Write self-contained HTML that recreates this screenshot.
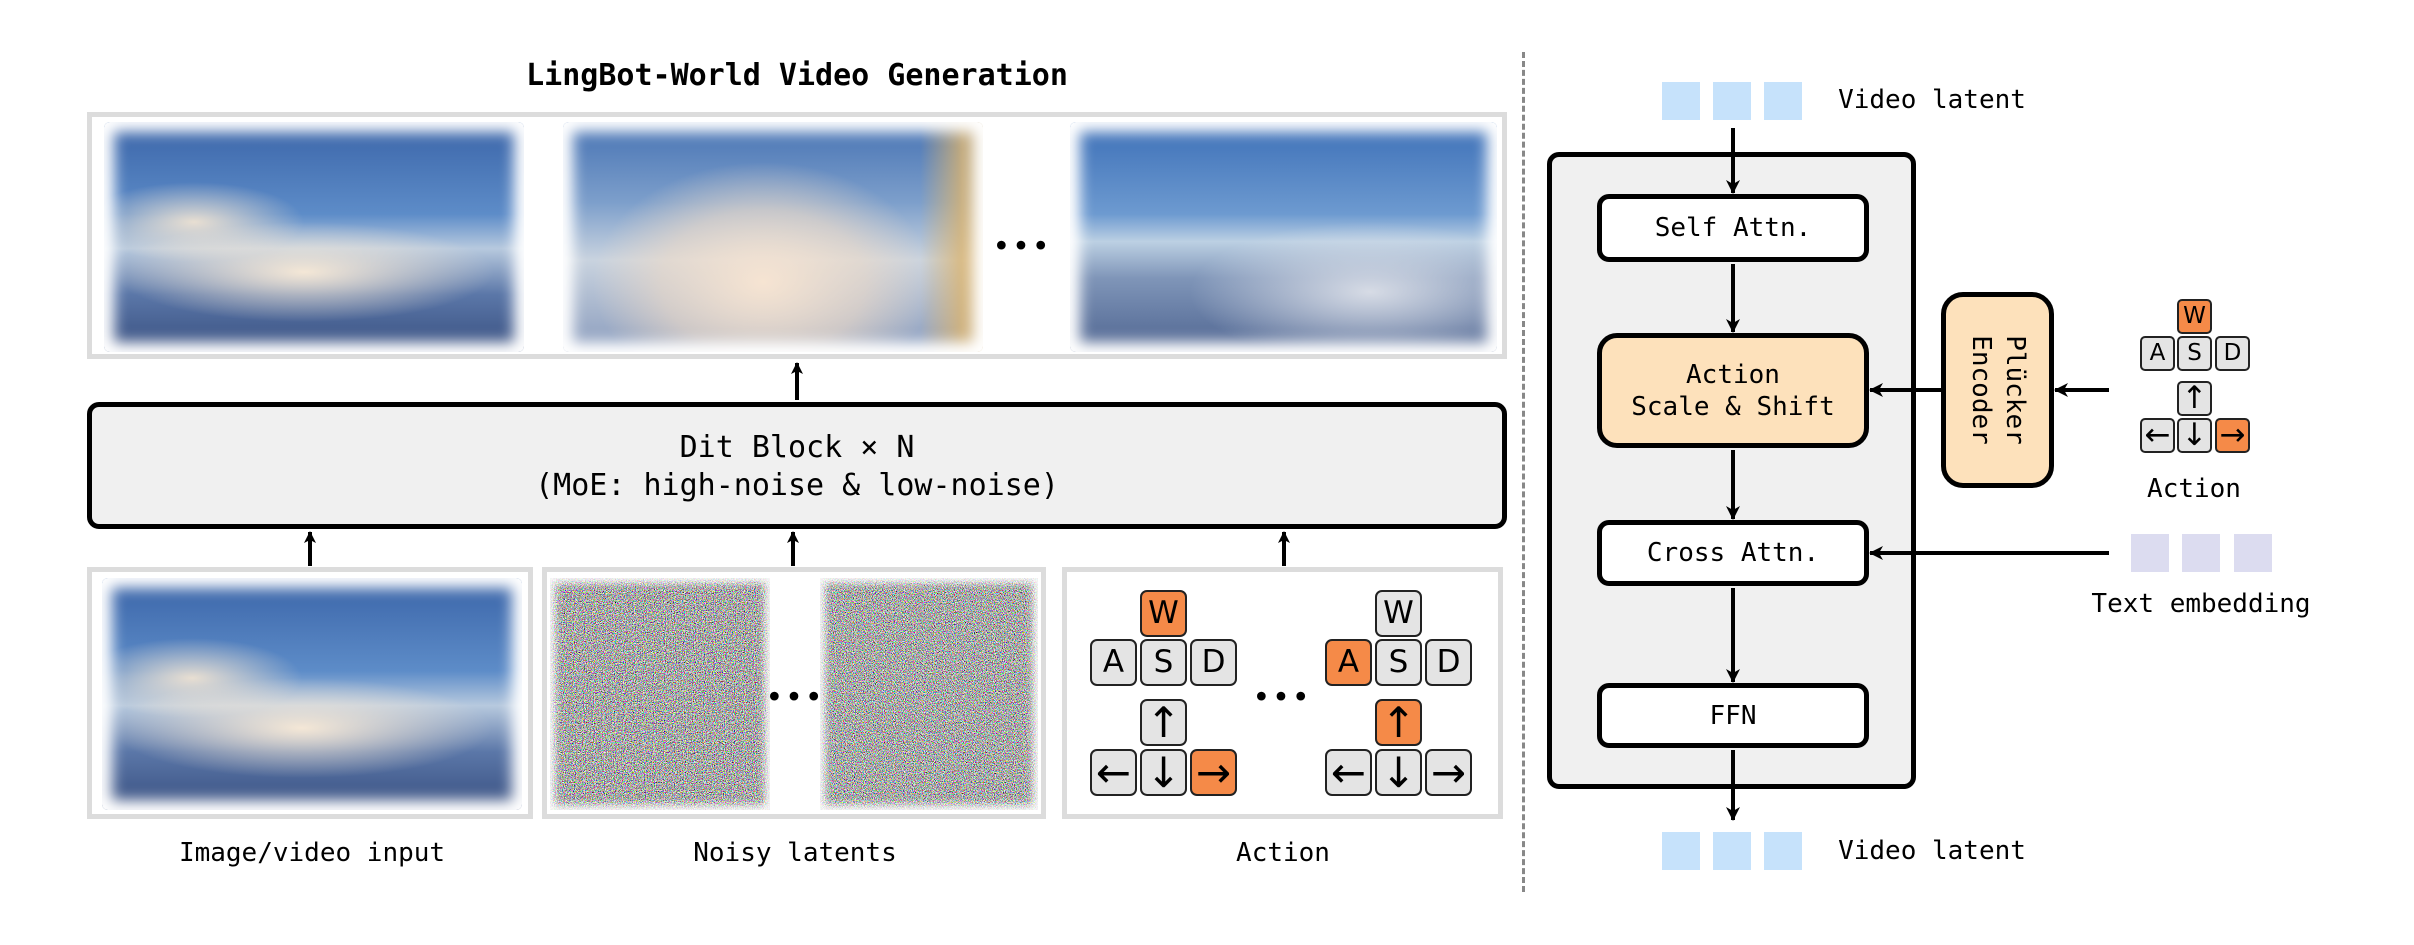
<!DOCTYPE html>
<html><head><meta charset="utf-8">
<style>
*{box-sizing:border-box;margin:0;padding:0}
body{width:2414px;height:945px;background:#fff;position:relative;overflow:hidden;font-family:"DejaVu Sans Mono","Liberation Mono",monospace;color:#000}
.a{position:absolute}
.gbox{position:absolute;border:5px solid #dcdcdc;background:#fff}
.img{position:absolute;border-radius:6px}
.fe{box-shadow:inset 0 0 14px 10px #fff}
.t{position:absolute;white-space:nowrap;transform:translate(-50%,-50%);line-height:1}
.key{position:absolute;background:#e4e4e4;border:2.5px solid #222;border-radius:7px;font-family:"DejaVu Sans","Liberation Sans",sans-serif;display:flex;align-items:center;justify-content:center;line-height:1}
.k1{width:47px;height:47px;font-size:31px}
.k1.ar{font-size:42px}
.k2{width:35px;height:35px;font-size:23px;border-width:2px;border-radius:5px}
.k2.ar{font-size:31px}
.o{background:#f58a48}
.box{position:absolute;border:5px solid #000;border-radius:12px;display:flex;align-items:center;justify-content:center;text-align:center;font-size:26px;line-height:32px}
.sq{position:absolute;width:38px;height:38px}
.dots{position:absolute;font-family:"DejaVu Sans",sans-serif;font-size:30px;transform:translate(-50%,-50%);letter-spacing:2px}
</style></head><body>

<div class="t" style="left:797px;top:76px;font-size:30px;font-weight:bold">LingBot-World Video Generation</div>

<div class="gbox" style="left:87px;top:112px;width:1420px;height:247px"></div>
<div class="img" style="left:104px;top:122px;width:420px;height:230px;background:
radial-gradient(ellipse 190px 50px at 200px 150px,rgba(250,235,215,.95),rgba(250,235,215,0) 100%),
radial-gradient(ellipse 110px 40px at 90px 100px,rgba(245,230,210,.9),rgba(245,230,210,0)),
linear-gradient(180deg,#3a64a8 0%,#5d8cc8 40%,#b7c9de 55%,#5b77a8 75%,#384f80 100%)"></div>
<div class="img fe" style="left:104px;top:122px;width:420px;height:230px"></div>
<div class="img" style="left:563px;top:122px;width:420px;height:230px;background:
radial-gradient(ellipse 170px 120px at 200px 160px,rgba(246,228,210,1),rgba(240,220,200,.6) 60%,rgba(240,220,200,0)),
linear-gradient(90deg,rgba(0,0,0,0) 85%,rgba(220,180,110,.8) 95%),
linear-gradient(180deg,#4672b3 0%,#7d9fcb 35%,#c9d3df 60%,#8a9cbd 100%)"></div>
<div class="img fe" style="left:563px;top:122px;width:420px;height:230px"></div>
<div class="dots" style="left:1022px;top:247px">•••</div>
<div class="img" style="left:1070px;top:122px;width:427px;height:230px;background:
radial-gradient(ellipse 180px 70px at 300px 170px,rgba(225,228,235,.9),rgba(200,210,225,0)),
linear-gradient(180deg,#3c6fb7 0%,#6d9ad0 40%,#bcd0e3 52%,#7f95b8 68%,#4f6591 100%)"></div>
<div class="img fe" style="left:1070px;top:122px;width:427px;height:230px"></div>

<div class="a" style="left:87px;top:402px;width:1420px;height:127px;background:#f0f0f0;border:5px solid #000;border-radius:12px"></div>
<div class="t" style="left:797px;top:448px;font-size:30px">Dit Block × N</div>
<div class="t" style="left:797px;top:486px;font-size:30px">(MoE: high-noise &amp; low-noise)</div>

<div class="gbox" style="left:87px;top:567px;width:446px;height:252px"></div>
<div class="img" style="left:102px;top:578px;width:420px;height:232px;background:
radial-gradient(ellipse 190px 50px at 200px 150px,rgba(250,235,215,.95),rgba(250,235,215,0) 100%),
radial-gradient(ellipse 110px 40px at 90px 100px,rgba(245,230,210,.9),rgba(245,230,210,0)),
linear-gradient(180deg,#3a64a8 0%,#5d8cc8 40%,#b7c9de 55%,#5b77a8 75%,#384f80 100%)"></div>
<div class="img fe" style="left:102px;top:578px;width:420px;height:232px"></div>

<div class="gbox" style="left:542px;top:567px;width:504px;height:252px"></div>
<svg class="a" style="left:550px;top:578px" width="220" height="232">
<filter id="n" x="0" y="0" width="100%" height="100%"><feTurbulence type="fractalNoise" baseFrequency="1.1" numOctaves="1" seed="3"/><feComponentTransfer><feFuncR type="linear" slope="4" intercept="-1.5"/><feFuncG type="linear" slope="4" intercept="-1.5"/><feFuncB type="linear" slope="4" intercept="-1.5"/><feFuncA type="linear" slope="0" intercept="1"/></feComponentTransfer></filter>
<rect width="220" height="232" filter="url(#n)"/></svg>
<div class="img fe" style="left:550px;top:578px;width:220px;height:232px;border-radius:0;box-shadow:inset 0 0 8px 5px rgba(255,255,255,.9)"></div>
<svg class="a" style="left:820px;top:578px" width="218" height="232">
<filter id="n2" x="0" y="0" width="100%" height="100%"><feTurbulence type="fractalNoise" baseFrequency="1.1" numOctaves="1" seed="8"/><feComponentTransfer><feFuncR type="linear" slope="4" intercept="-1.5"/><feFuncG type="linear" slope="4" intercept="-1.5"/><feFuncB type="linear" slope="4" intercept="-1.5"/><feFuncA type="linear" slope="0" intercept="1"/></feComponentTransfer></filter>
<rect width="218" height="232" filter="url(#n2)"/></svg>
<div class="img fe" style="left:820px;top:578px;width:218px;height:232px;border-radius:0;box-shadow:inset 0 0 8px 5px rgba(255,255,255,.9)"></div>
<div class="dots" style="left:795px;top:698px">•••</div>

<div class="gbox" style="left:1062px;top:567px;width:441px;height:252px"></div>
<div class="key k1 o" style="left:1140px;top:590px">W</div>
<div class="key k1" style="left:1090px;top:639px">A</div>
<div class="key k1" style="left:1140px;top:639px">S</div>
<div class="key k1" style="left:1190px;top:639px">D</div>
<div class="key k1 ar" style="left:1140px;top:699px">↑</div>
<div class="key k1 ar" style="left:1090px;top:749px">←</div>
<div class="key k1 ar" style="left:1140px;top:749px">↓</div>
<div class="key k1 ar o" style="left:1190px;top:749px">→</div>
<div class="dots" style="left:1282px;top:698px">•••</div>
<div class="key k1" style="left:1375px;top:590px">W</div>
<div class="key k1 o" style="left:1325px;top:639px">A</div>
<div class="key k1" style="left:1375px;top:639px">S</div>
<div class="key k1" style="left:1425px;top:639px">D</div>
<div class="key k1 ar o" style="left:1375px;top:699px">↑</div>
<div class="key k1 ar" style="left:1325px;top:749px">←</div>
<div class="key k1 ar" style="left:1375px;top:749px">↓</div>
<div class="key k1 ar" style="left:1425px;top:749px">→</div>

<div class="t" style="left:312px;top:853px;font-size:26px">Image/video input</div>
<div class="t" style="left:795px;top:853px;font-size:26px">Noisy latents</div>
<div class="t" style="left:1283px;top:853px;font-size:26px">Action</div>

<div class="a" style="left:1522px;top:52px;width:0;height:840px;border-left:3px dashed #888"></div>

<div class="sq" style="left:1662px;top:82px;background:#c6e2fb"></div>
<div class="sq" style="left:1713px;top:82px;background:#c6e2fb"></div>
<div class="sq" style="left:1764px;top:82px;background:#c6e2fb"></div>
<div class="t" style="left:1932px;top:100px;font-size:26px">Video latent</div>

<div class="a" style="left:1547px;top:152px;width:369px;height:637px;background:#f0f0f0;border:5px solid #000;border-radius:12px"></div>
<div class="box" style="left:1597px;top:194px;width:272px;height:68px;background:#fff">Self Attn.</div>
<div class="box" style="left:1597px;top:333px;width:272px;height:115px;background:#fde1bb;border-radius:20px">Action<br>Scale &amp; Shift</div>
<div class="box" style="left:1597px;top:520px;width:272px;height:66px;background:#fff">Cross Attn.</div>
<div class="box" style="left:1597px;top:683px;width:272px;height:65px;background:#fff">FFN</div>

<div class="box" style="left:1941px;top:292px;width:113px;height:196px;background:#fde1bb;border-radius:22px">
<div style="transform:rotate(90deg);white-space:nowrap;line-height:34px">Plücker<br>Encoder</div></div>

<div class="key k2 o" style="left:2177px;top:299px">W</div>
<div class="key k2" style="left:2140px;top:336px">A</div>
<div class="key k2" style="left:2177px;top:336px">S</div>
<div class="key k2" style="left:2215px;top:336px">D</div>
<div class="key k2 ar" style="left:2177px;top:381px">↑</div>
<div class="key k2 ar" style="left:2140px;top:418px">←</div>
<div class="key k2 ar" style="left:2177px;top:418px">↓</div>
<div class="key k2 ar o" style="left:2215px;top:418px">→</div>
<div class="t" style="left:2194px;top:489px;font-size:26px">Action</div>

<div class="sq" style="left:2131px;top:534px;background:#dcdcf0"></div>
<div class="sq" style="left:2182px;top:534px;background:#dcdcf0"></div>
<div class="sq" style="left:2234px;top:534px;background:#dcdcf0"></div>
<div class="t" style="left:2201px;top:604px;font-size:26px">Text embedding</div>

<div class="sq" style="left:1662px;top:832px;background:#c6e2fb"></div>
<div class="sq" style="left:1713px;top:832px;background:#c6e2fb"></div>
<div class="sq" style="left:1764px;top:832px;background:#c6e2fb"></div>
<div class="t" style="left:1932px;top:851px;font-size:26px">Video latent</div>

<svg class="a" style="left:0;top:0" width="2414" height="945">
<defs><marker id="ah" markerWidth="12" markerHeight="12" refX="11" refY="6" orient="auto" markerUnits="userSpaceOnUse"><path d="M0,0 L12,6 L0,12 L3,6 z" fill="#000"/></marker>
<marker id="ah2" markerWidth="14" markerHeight="14" refX="13" refY="7" orient="auto" markerUnits="userSpaceOnUse"><path d="M0,0 L14,7 L0,14 L4,7 z" fill="#000"/></marker></defs>
<g stroke="#000" stroke-width="4" fill="none">
<line x1="797" y1="400" x2="797" y2="363" marker-end="url(#ah)"/>
<line x1="310" y1="566" x2="310" y2="532" marker-end="url(#ah)"/>
<line x1="793" y1="566" x2="793" y2="532" marker-end="url(#ah)"/>
<line x1="1284" y1="566" x2="1284" y2="532" marker-end="url(#ah)"/>
<line x1="1733" y1="128" x2="1733" y2="193" marker-end="url(#ah2)"/>
<line x1="1733" y1="264" x2="1733" y2="332" marker-end="url(#ah2)"/>
<line x1="1733" y1="450" x2="1733" y2="519" marker-end="url(#ah2)"/>
<line x1="1733" y1="588" x2="1733" y2="682" marker-end="url(#ah2)"/>
<line x1="1733" y1="750" x2="1733" y2="820" marker-end="url(#ah2)"/>
<line x1="1941" y1="390" x2="1870" y2="390" marker-end="url(#ah2)"/>
<line x1="2109" y1="390" x2="2055" y2="390" marker-end="url(#ah2)"/>
<line x1="2109" y1="553" x2="1870" y2="553" marker-end="url(#ah2)"/>
</g></svg>
</body></html>
